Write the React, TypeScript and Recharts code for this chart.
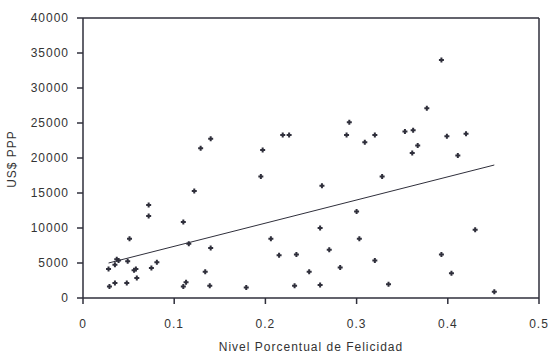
import React from 'react';
import { ScatterChart, Scatter, XAxis, YAxis, ReferenceLine, Label } from 'recharts';

const happiness = [
  0.028, 0.029, 0.035, 0.035, 0.037, 0.039, 0.048, 0.049, 0.051, 0.056,
  0.058, 0.059, 0.072, 0.072, 0.075, 0.081, 0.11, 0.113, 0.11, 0.116,
  0.122, 0.129, 0.14, 0.134, 0.139, 0.14, 0.179, 0.197, 0.195, 0.206,
  0.215, 0.234, 0.232, 0.248, 0.26, 0.262, 0.26, 0.27, 0.282, 0.3,
  0.303, 0.32, 0.328, 0.335, 0.309, 0.292, 0.219, 0.226, 0.289, 0.32,
  0.393, 0.377, 0.353, 0.362, 0.399, 0.42, 0.367, 0.361, 0.411, 0.43,
  0.393, 0.404, 0.451,
];

const gdpPPP = [
  4150, 1650, 2150, 4750, 5550, 5350, 2150, 5250, 8450, 3950,
  4150, 2850, 13300, 11700, 4300, 5100, 1650, 2250, 10850, 7750,
  15300, 21400, 22750, 3750, 1750, 7150, 1500, 21150, 17350, 8450,
  6100, 6200, 1750, 3750, 10000, 16050, 1850, 6900, 4350, 12350,
  8450, 5350, 17350, 1950, 22250, 25100, 23300, 23300, 23300, 23300,
  34000, 27100, 23800, 23950, 23100, 23450, 21800, 20700, 20350, 9750,
  6200, 3550, 900,
];

const trendX = [0.028, 0.451];
const trendY = [5000, 19000];

const xTicks = [0, 0.1, 0.2, 0.3, 0.4, 0.5];
const yTicks = [0, 5000, 10000, 15000, 20000, 25000, 30000, 35000, 40000];

const points = happiness.map((x, i) => ({ x, y: gdpPPP[i] }));
const trend = trendX.map((x, i) => ({ x, y: trendY[i] }));

const INK = '#2f2f3b';
const FONT = { fontFamily: '"Liberation Sans", Arial, sans-serif', fontSize: 12, fill: '#333', letterSpacing: 1 } as any;

const Marker = (props: any) => {
  const { cx, cy } = props;
  if (cx == null || cy == null) return null;
  return (
    <path
      d={`M${cx - 2.5},${cy}h5M${cx},${cy - 2.5}v5`}
      stroke={INK}
      strokeWidth={2}
      fill="none"
    />
  );
};

const NoShape = () => null;

export default function App() {
  return (
    <div style={{ position: 'absolute', left: 0, top: 0, background: '#fff' }}>
      <ScatterChart
        width={557}
        height={358}
        margin={{ top: 18, right: 18, left: 0, bottom: 0 }}
      >
        <XAxis
          type="number"
          dataKey="x"
          domain={[0, 0.5]}
          ticks={xTicks}
          tickFormatter={(v: number) => String(v)}
          height={60}
          tickSize={6}
          tickMargin={15}
          axisLine={{ stroke: INK, strokeWidth: 1.5 }}
          tickLine={{ stroke: INK, strokeWidth: 1.5 }}
          tick={FONT}
          interval={0}
        >
          <Label
            value="Nivel Porcentual de Felicidad"
            position="insideBottom"
            offset={7}
            style={FONT}
          />
        </XAxis>
        <YAxis
          type="number"
          dataKey="y"
          domain={[0, 40000]}
          ticks={yTicks}
          width={83}
          tickSize={6}
          tickMargin={8}
          axisLine={{ stroke: INK, strokeWidth: 1.5 }}
          tickLine={{ stroke: INK, strokeWidth: 1.5 }}
          tick={FONT}
          interval={0}
        >
          <Label
            content={() => (
              <text
                x={12}
                y={159}
                transform="rotate(-90 12 159)"
                textAnchor="middle"
                dominantBaseline="central"
                style={FONT}
              >
                US$ PPP
              </text>
            )}
          />
        </YAxis>
        <ReferenceLine y={40000} stroke={INK} strokeWidth={1.5} ifOverflow="visible" />
        <ReferenceLine x={0.5} stroke={INK} strokeWidth={1.5} ifOverflow="visible" />
        <Scatter
          data={trend}
          line={{ stroke: INK, strokeWidth: 1 }}
          shape={NoShape}
          isAnimationActive={false}
        />
        <Scatter data={points} shape={Marker} isAnimationActive={false} />
      </ScatterChart>
    </div>
  );
}
